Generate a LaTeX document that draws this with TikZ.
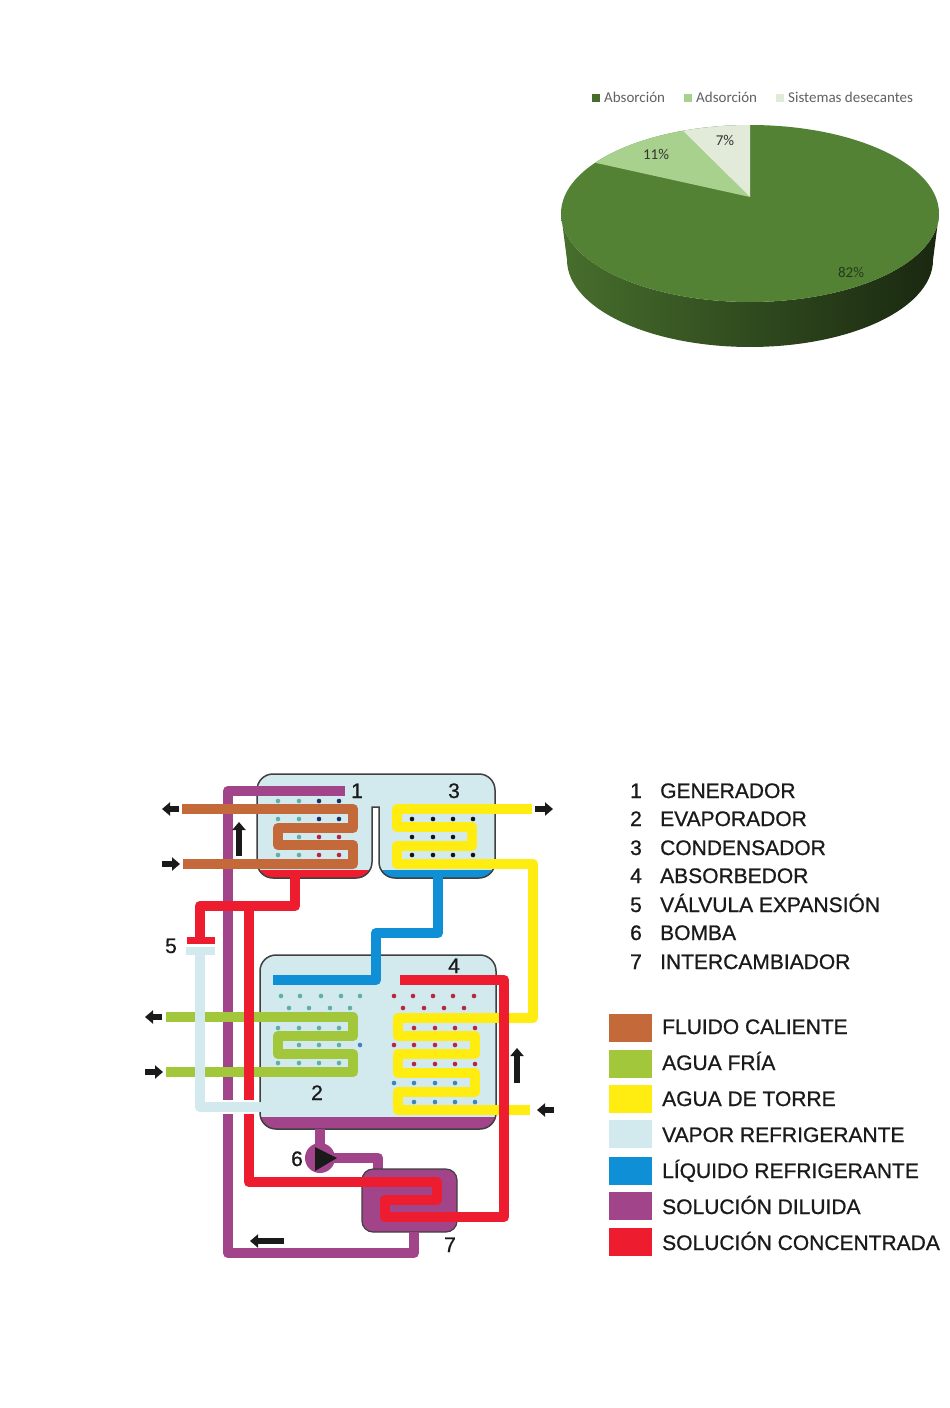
\documentclass[tikz,border=0pt]{standalone}
\usepackage{fontspec}
\setmainfont[FakeBold=0.8]{Liberation Sans}
\newfontfamily\calfont{Carlito}
\usetikzlibrary{arrows.meta}
\definecolor{tankfill}{HTML}{D2E9EE}
\definecolor{brownp}{HTML}{C4693A}
\definecolor{greenp}{HTML}{A2C73B}
\definecolor{yellowp}{HTML}{FFED12}
\definecolor{bluep}{HTML}{0F8FD6}
\definecolor{purplep}{HTML}{A1448A}
\definecolor{redp}{HTML}{ED1C2E}
\definecolor{tealdot}{HTML}{5FB0A8}
\definecolor{navydot}{HTML}{1F2F66}
\definecolor{reddot}{HTML}{B5283F}
\definecolor{bluedot}{HTML}{3F86B8}
\definecolor{darkdot}{HTML}{141414}
\definecolor{inkc}{HTML}{1A1A1A}
\definecolor{pieA}{HTML}{548235}
\definecolor{pieB}{HTML}{A9D18E}
\definecolor{pieC}{HTML}{E2EBDA}
\tikzset{
  pipe/.style={line width=10.5pt,line join=round},
  tankline/.style={draw=black!75,line width=1.5pt},
  flowarrow/.style={draw=inkc,line width=5.5pt,-{Triangle[length=8pt,width=13pt]}},
  numlabel/.style={inner sep=0pt,anchor=base,font=\fontsize{21}{24}\selectfont,text=inkc},
  listlabel/.style={inner sep=0pt,anchor=base west,font=\fontsize{21}{24}\selectfont,text=inkc},
  swatch/.style={minimum width=43pt,minimum height=28pt,inner sep=0pt,anchor=north west},
  pielabel/.style={inner sep=0pt,font=\calfont\fontsize{15}{17}\selectfont},
  pielegend/.style={inner sep=0pt,anchor=base west,font=\calfont\fontsize{15}{17}\selectfont,text=black!62},
  piekey/.style={minimum size=8pt,inner sep=0pt},
}
\newcommand{\dotrow}[3]{\foreach \dx in {#2} \fill[#3] (\dx,#1) circle (2.3pt);}
\begin{document}
\begin{tikzpicture}[x=1pt,y=-1pt]
\useasboundingbox (0,0) rectangle (950,1408);
\fill[white] (0,0) rectangle (950,1408);

% ---------- pie chart ----------
\shade[left color=pieA!85!black,middle color=pieA!60!black,right color=pieA!30!black]
  plot[domain=180:360,samples=60] ({750+189*cos(\x)},{213.5-88.5*sin(\x)})
  -- plot[domain=360:180,samples=60] ({750+183*cos(\x)},{260-87*sin(\x)}) -- cycle;
\fill[pieA] (750,213.5) ellipse [x radius=189pt,y radius=88.5pt];
\fill[pieB] (750,197) -- plot[domain=110.8:145,samples=20] ({750+189*cos(\x)},{213.5-88.5*sin(\x)}) -- cycle;
\fill[pieC] (750,197) -- plot[domain=90:110.8,samples=12] ({750+189*cos(\x)},{213.5-88.5*sin(\x)}) -- cycle;
\node[pielabel,text=black!80] (p11) at (656,154) {11\%};
\node[pielabel,text=black!80] (p7) at (725,140) {7\%};
\node[pielabel,text=pieA!45!black] (p82) at (851,272) {82\%};
\node[piekey,fill=pieA!85!black] (k1) at (596,98) {};
\node[pielegend] (l1) at (604,102) {Absorción};
\node[piekey,fill=pieB] (k2) at (688,98) {};
\node[pielegend] (l2) at (696,102) {Adsorción};
\node[piekey,fill=pieC] (k3) at (780,98) {};
\node[pielegend] (l3) at (788,102) {Sistemas desecantes};

% ---------- tanks ----------
% upper vessel
\path[fill=tankfill]
  (257,790) arc[start angle=180,end angle=90,radius=16pt] -- (479,774)
  arc[start angle=90,end angle=0,radius=16pt] -- (495,862)
  arc[start angle=0,end angle=-90,radius=16pt] -- (395,878)
  arc[start angle=-90,end angle=-180,radius=16pt] -- (379,807) -- (372,807) -- (372,862)
  arc[start angle=0,end angle=-90,radius=16pt] -- (273,878)
  arc[start angle=-90,end angle=-180,radius=16pt] -- cycle;
\begin{scope}
  \clip (250,870) rectangle (500,885);
  \path[fill=redp] (257,850) -- (257,862) arc[start angle=180,end angle=270,radius=16pt] -- (356,878)
    arc[start angle=270,end angle=360,radius=16pt] -- (372,850) -- cycle;
  \path[fill=bluep] (379,850) -- (379,862) arc[start angle=180,end angle=270,radius=16pt] -- (479,878)
    arc[start angle=270,end angle=360,radius=16pt] -- (495,850) -- cycle;
\end{scope}
\draw[tankline]
  (257,790) arc[start angle=180,end angle=90,radius=16pt] -- (479,774)
  arc[start angle=90,end angle=0,radius=16pt] -- (495,862)
  arc[start angle=0,end angle=-90,radius=16pt] -- (395,878)
  arc[start angle=-90,end angle=-180,radius=16pt] -- (379,807) -- (372,807) -- (372,862)
  arc[start angle=0,end angle=-90,radius=16pt] -- (273,878)
  arc[start angle=-90,end angle=-180,radius=16pt] -- cycle;

% lower vessel
\path[fill=tankfill]
  (260,971) arc[start angle=180,end angle=90,radius=16pt] -- (480,955)
  arc[start angle=90,end angle=0,radius=16pt] -- (496,1113)
  arc[start angle=0,end angle=-90,radius=16pt] -- (276,1129)
  arc[start angle=-90,end angle=-180,radius=16pt] -- cycle;
\begin{scope}
  \clip (250,1117) rectangle (505,1135);
  \path[fill=purplep] (260,1100) -- (260,1113) arc[start angle=180,end angle=270,radius=16pt] -- (480,1129)
    arc[start angle=270,end angle=360,radius=16pt] -- (496,1100) -- cycle;
\end{scope}
\draw[tankline]
  (260,971) arc[start angle=180,end angle=90,radius=16pt] -- (480,955)
  arc[start angle=90,end angle=0,radius=16pt] -- (496,1113)
  arc[start angle=0,end angle=-90,radius=16pt] -- (276,1129)
  arc[start angle=-90,end angle=-180,radius=16pt] -- cycle;

% ---------- spray dots ----------
\dotrow{801}{278,299}{tealdot}\dotrow{801}{319,339}{navydot}
\dotrow{819}{278,299}{tealdot}\dotrow{819}{319,339}{navydot}
\dotrow{837}{299}{tealdot}\dotrow{837}{319,339}{reddot}
\dotrow{855}{278,299}{tealdot}\dotrow{855}{319,339}{reddot}
\dotrow{819}{412,433,453,473}{darkdot}
\dotrow{837}{412,433,453,473}{darkdot}
\dotrow{855}{412,433,453,473}{darkdot}
\dotrow{996}{281,300,321,341,360}{tealdot}
\dotrow{1008}{289,309,330,350}{tealdot}
\dotrow{1028}{278,299,319,339}{tealdot}
\dotrow{1045}{299,319,339}{tealdot}\dotrow{1045}{360}{bluedot}
\dotrow{1063}{278,299,319,339}{tealdot}
\dotrow{996}{394,413,433,453,474}{reddot}
\dotrow{1008}{403,424,444,464}{reddot}
\dotrow{1028}{414,435,455,475}{reddot}
\dotrow{1045}{394,414,435,455}{reddot}
\dotrow{1064}{414,435,455,475}{reddot}
\dotrow{1083}{394,414,435,455}{bluedot}
\dotrow{1102}{414,435,455,475}{bluedot}

% ---------- exchanger and pump ----------
\draw[pipe,purplep] (320,1129) -- (320,1158) -- (378,1158) -- (378,1170);
\filldraw[fill=purplep,draw=black!75,line width=1.2pt,rounded corners=11pt] (362,1169) rectangle (457,1232);
\fill[purplep] (320,1158) circle (15pt);
\fill[inkc] (315,1147) -- (337,1158) -- (315,1171) -- cycle;

% ---------- pipes ----------
\draw[pipe,purplep] (345,791) -- (228,791) -- (228,1253) -- (414,1253) -- (414,1232);
\draw[pipe,brownp] (182,809) -- (353,809) -- (353,828) -- (278,828) -- (278,845) -- (353,845) -- (353,864) -- (183,864);
\draw[pipe,greenp] (166,1017) -- (353,1017) -- (353,1036) -- (278,1036) -- (278,1054) -- (353,1054) -- (353,1072) -- (166,1072);
\draw[pipe,tankfill] (200,950) -- (200,1107) -- (262,1107);
\fill[tankfill] (186,947) rectangle (215,955);
\draw[pipe,yellowp] (532,809) -- (397,809) -- (397,827) -- (472,827) -- (472,846) -- (397,846) -- (397,864) -- (533,864) -- (533,1018) -- (398,1018) -- (398,1036) -- (475,1036) -- (475,1054) -- (398,1054) -- (398,1073) -- (475,1073) -- (475,1092) -- (398,1092) -- (398,1110) -- (530,1110);
\draw[pipe,bluep] (438,876) -- (438,933) -- (376,933) -- (376,980) -- (273,980);
\draw[pipe,redp] (200,940) -- (200,906) -- (295,906) -- (295,876);
\fill[redp] (187,937) rectangle (215,944);
\draw[pipe,redp] (249,906) -- (249,1102);
\draw[pipe,redp] (249,1113) -- (249,1182) -- (437,1182) -- (437,1200) -- (385,1200) -- (385,1217) -- (504,1217) -- (504,980) -- (400,980);
% vapour line crossing over purple and red
\draw[line width=13.5pt,white] (223,1107) -- (233,1107) (244,1107) -- (254,1107);
\draw[pipe,tankfill] (215,1107) -- (262,1107);

% ---------- flow arrows ----------
\draw[flowarrow] (179,809) -- (162,809);
\draw[flowarrow] (162,864) -- (180,864);
\draw[flowarrow] (535,809) -- (553,809);
\draw[flowarrow] (162,1017) -- (145,1017);
\draw[flowarrow] (145,1072) -- (163,1072);
\draw[flowarrow] (554,1110) -- (537,1110);
\draw[flowarrow] (239,856) -- (239,822);
\draw[flowarrow] (517,1083) -- (517,1048);
\draw[flowarrow] (284,1241) -- (250,1241);

% ---------- component numbers ----------
\node[numlabel] (n1) at (357,798) {1};
\node[numlabel] (n3) at (454,798) {3};
\node[numlabel] (n5) at (171,953) {5};
\node[numlabel] (n4) at (454,973) {4};
\node[numlabel] (n2) at (317,1100) {2};
\node[numlabel] (n6) at (297,1166) {6};
\node[numlabel] (n7) at (450,1252) {7};

% ---------- legend: components ----------
\node[numlabel] (a1) at (636,798) {1};
\node[listlabel] (t1) at (660,798) {GENERADOR};
\node[numlabel] (a2) at (636,826) {2};
\node[listlabel] (t2) at (660,826) {EVAPORADOR};
\node[numlabel] (a3) at (636,855) {3};
\node[listlabel] (t3) at (660,855) {CONDENSADOR};
\node[numlabel] (a4) at (636,883) {4};
\node[listlabel] (t4) at (660,883) {ABSORBEDOR};
\node[numlabel] (a5) at (636,912) {5};
\node[listlabel] (t5) at (660,912) {VÁLVULA EXPANSIÓN};
\node[numlabel] (a6) at (636,940) {6};
\node[listlabel] (t6) at (660,940) {BOMBA};
\node[numlabel] (a7) at (636,969) {7};
\node[listlabel] (t7) at (660,969) {INTERCAMBIADOR};

% ---------- legend: colours ----------
\node[swatch,fill=brownp] (s1) at (609,1014) {};
\node[listlabel] (c1) at (662,1034) {FLUIDO CALIENTE};
\node[swatch,fill=greenp] (s2) at (609,1050) {};
\node[listlabel] (c2) at (662,1070) {AGUA FRÍA};
\node[swatch,fill=yellowp] (s3) at (609,1085) {};
\node[listlabel] (c3) at (662,1106) {AGUA DE TORRE};
\node[swatch,fill=tankfill] (s4) at (609,1120) {};
\node[listlabel] (c4) at (662,1142) {VAPOR REFRIGERANTE};
\node[swatch,fill=bluep] (s5) at (609,1157) {};
\node[listlabel] (c5) at (662,1178) {LÍQUIDO REFRIGERANTE};
\node[swatch,fill=purplep] (s6) at (609,1192) {};
\node[listlabel] (c6) at (662,1214) {SOLUCIÓN DILUIDA};
\node[swatch,fill=redp] (s7) at (609,1228) {};
\node[listlabel] (c7) at (662,1250) {SOLUCIÓN CONCENTRADA};
\end{tikzpicture}
\end{document}
